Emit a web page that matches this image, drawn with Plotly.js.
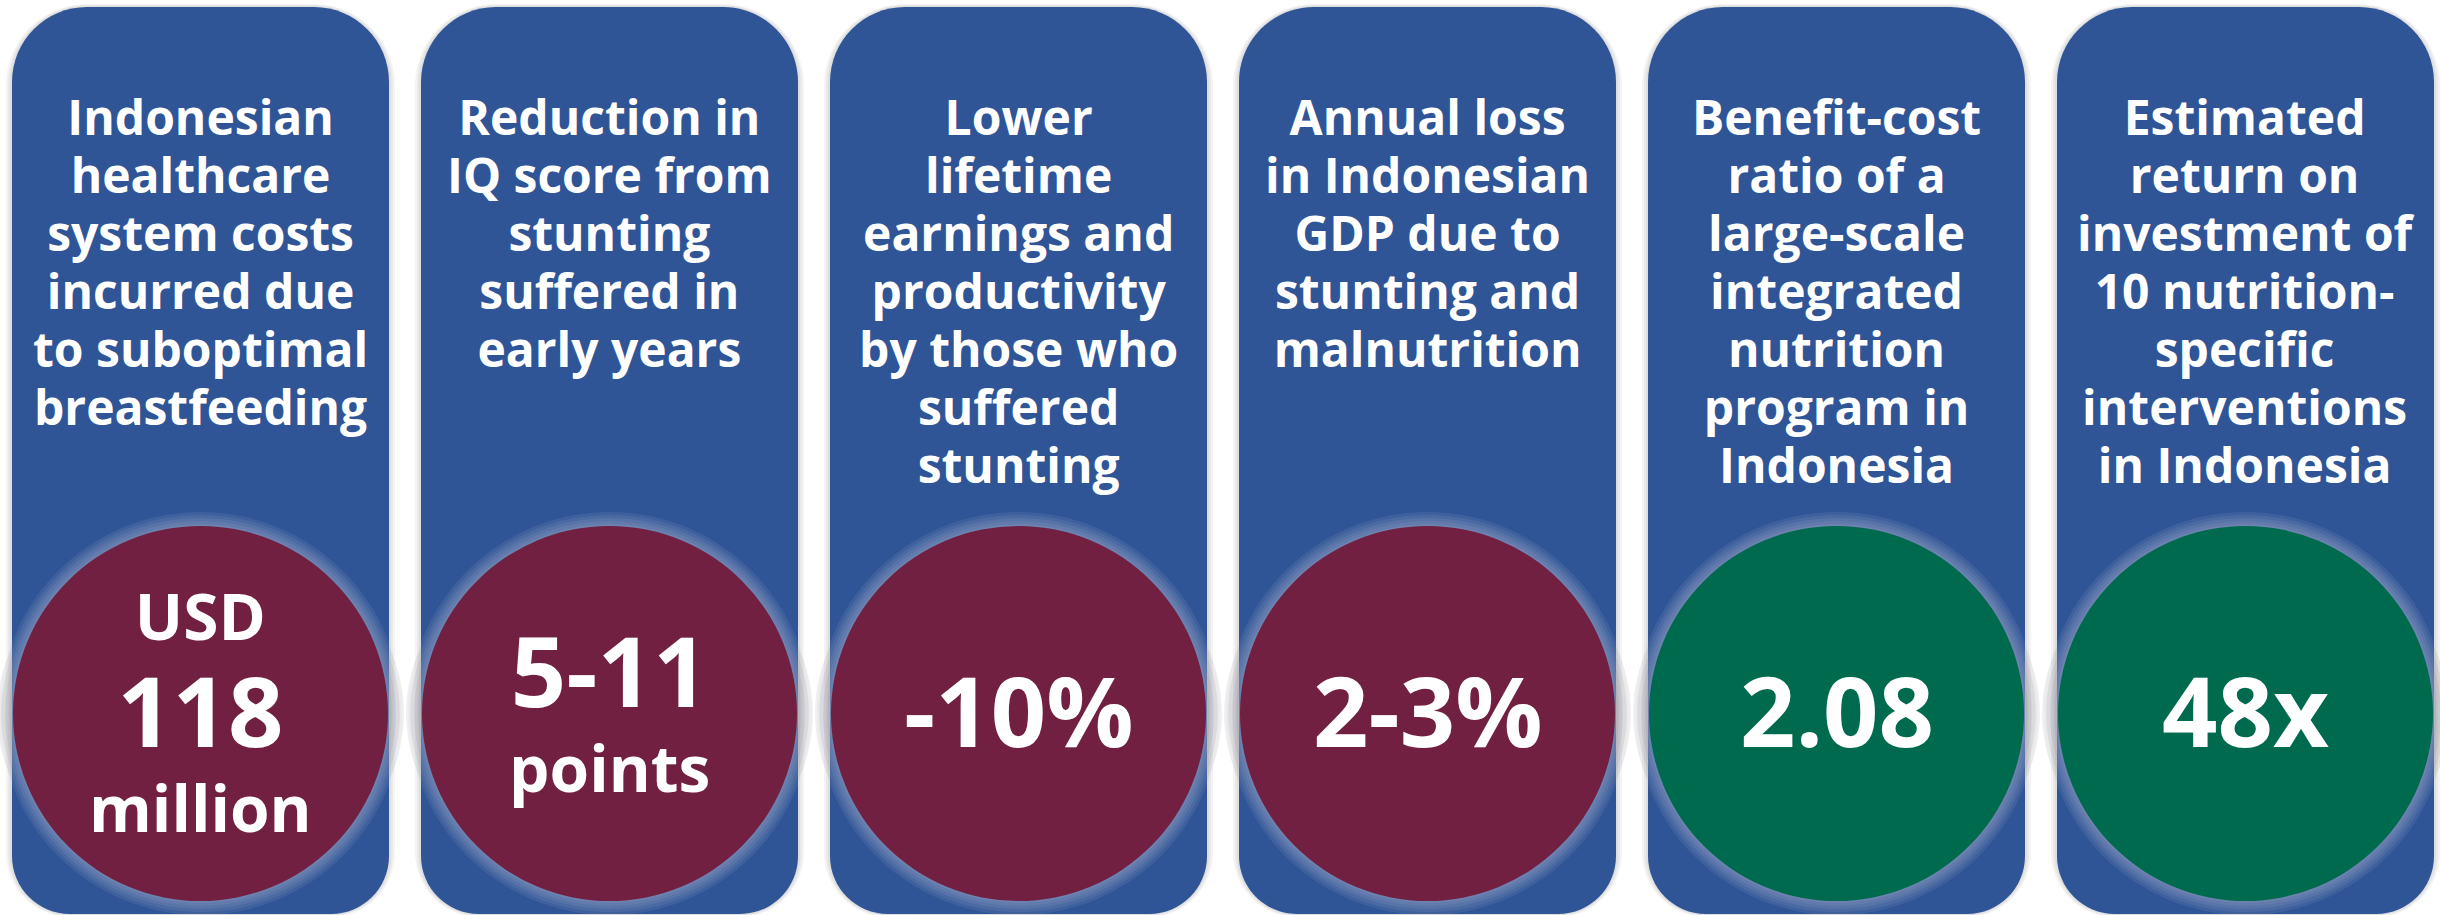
<!DOCTYPE html>
<html>
<head>
<meta charset="utf-8">
<script src="https://cdn.plot.ly/plotly-3.0.1.min.js"></script>
<style>
  html, body { margin: 0; padding: 0; background: #ffffff; }
  #chart { width: 2440px; height: 915px; }
</style>
</head>
<body>
<div id="chart"></div>
<script>
// ---- data ----
const categories = [
  ["Indonesian", "healthcare", "system costs", "incurred due", "to suboptimal", "breastfeeding"],
  ["Reduction in", "IQ score from", "stunting", "suffered in", "early years"],
  ["Lower", "lifetime", "earnings and", "productivity", "by those who", "suffered", "stunting"],
  ["Annual loss", "in Indonesian", "GDP due to", "stunting and", "malnutrition"],
  ["Benefit-cost", "ratio of a", "large-scale", "integrated", "nutrition", "program in", "Indonesia"],
  ["Estimated", "return on", "investment of", "10 nutrition-", "specific", "interventions", "in Indonesia"]
];
const valuePrefix = ["USD", "", "", "", "", ""];
const valueMain   = ["118", "5-11", "-10%", "2-3%", "2.08", "48x"];
const valueSuffix = ["million", "points", "", "", "", ""];
const valueKind   = ["cost", "cost", "cost", "cost", "benefit", "benefit"];

// ---- styling / layout constants ----
const W = 2440, H = 915;
const PANEL_X0 = 12, PANEL_W = 377, PANEL_STEP = 409;
const PANEL_Y0 = 7, PANEL_Y1 = 914, R_TOP = 75, R_BOT = 58;
const BLUE = "#2F5597";
const KIND_COLOR = { cost: "#722041", benefit: "#006A4E" };
const CIRCLE_CY = 713.5, CIRCLE_R = 187.5;
const FONT = "Open Sans";
const ASC = 1.069, DESC = 0.293;           // Open Sans line metrics (em)
const TITLE_FS = 48, TITLE_BASE = 135, TITLE_STEP = 58;
const MAIN_FS = 97, SMALL_FS = 64;
const VALUE_STEP = 21.35;                   // fine line grid inside the circles

function roundedPath(x0, y0, x1, y1, rt, rb) {
  const k = 0.5523;
  return [
    `M ${x0 + rt},${y0}`,
    `L ${x1 - rt},${y0}`,
    `C ${x1 - rt + k * rt},${y0} ${x1},${y0 + rt - k * rt} ${x1},${y0 + rt}`,
    `L ${x1},${y1 - rb}`,
    `C ${x1},${y1 - rb + k * rb} ${x1 - rb + k * rb},${y1} ${x1 - rb},${y1}`,
    `L ${x0 + rb},${y1}`,
    `C ${x0 + rb - k * rb},${y1} ${x0},${y1 - rb + k * rb} ${x0},${y1 - rb}`,
    `L ${x0},${y0 + rt}`,
    `C ${x0},${y0 + rt - k * rt} ${x0 + rt - k * rt},${y0} ${x0 + rt},${y0}`,
    "Z"
  ].join(" ");
}

const shapes = [];
const annotations = [];

// One annotation per text block. lines: [{text, size, steps}] where steps is
// the number of grid steps below the previous line's baseline.
function addBlock(lines, cx, firstBaseline, step) {
  let b = firstBaseline, top = Infinity, bottom = -Infinity;
  const parts = [];
  lines.forEach((ln, j) => {
    if (j > 0) { b += ln.steps * step; for (let s = 1; s < ln.steps; s++) parts.push(""); }
    top = Math.min(top, b - ASC * ln.size);
    bottom = Math.max(bottom, b + DESC * ln.size);
    parts.push(`<span style="font-size:${ln.size}px">${ln.text}</span>`);
  });
  annotations.push({
    xref: "x", yref: "y",
    x: cx, y: (top + bottom) / 2,
    xanchor: "center", yanchor: "middle", align: "center",
    text: parts.join("<br>"), showarrow: false,
    font: { family: FONT, size: step / 1.3, color: "#ffffff", weight: 700 }
  });
}

categories.forEach((lines, i) => {
  const x0 = PANEL_X0 + i * PANEL_STEP, x1 = x0 + PANEL_W, cx = (x0 + x1) / 2;

  // panel shadow
  [6, 4, 2].forEach(d => {
    shapes.push({
      type: "path", layer: "below", xref: "x", yref: "y",
      path: roundedPath(x0 - d, PANEL_Y0 - d / 2, x1 + d, PANEL_Y1 + d / 2, R_TOP + d, R_BOT + d),
      fillcolor: "rgba(0,0,0,0.045)", line: { width: 0 }
    });
  });
  // circle shadow (shows outside panel edges)
  [16, 12, 8, 4].forEach(d => {
    shapes.push({
      type: "circle", layer: "below", xref: "x", yref: "y",
      x0: cx - CIRCLE_R - d, x1: cx + CIRCLE_R + d,
      y0: CIRCLE_CY - CIRCLE_R - d * 0.6 + 20, y1: CIRCLE_CY + CIRCLE_R + d * 0.6 - 20,
      fillcolor: "rgba(0,0,0,0.06)", line: { width: 0 }
    });
  });
  // panel
  shapes.push({
    type: "path", layer: "below", xref: "x", yref: "y",
    path: roundedPath(x0, PANEL_Y0, x1, PANEL_Y1, R_TOP, R_BOT),
    fillcolor: BLUE, line: { width: 0 }
  });
  // glow around circle
  [14, 11, 8, 5, 2].forEach(d => {
    shapes.push({
      type: "circle", layer: "below", xref: "x", yref: "y",
      x0: cx - CIRCLE_R - d, x1: cx + CIRCLE_R + d,
      y0: CIRCLE_CY - CIRCLE_R - d, y1: CIRCLE_CY + CIRCLE_R + d,
      fillcolor: "rgba(200,200,220,0.10)", line: { width: 0 }
    });
  });
  // circle
  shapes.push({
    type: "circle", layer: "below", xref: "x", yref: "y",
    x0: cx - CIRCLE_R, x1: cx + CIRCLE_R,
    y0: CIRCLE_CY - CIRCLE_R, y1: CIRCLE_CY + CIRCLE_R,
    fillcolor: KIND_COLOR[valueKind[i]], line: { width: 0 }
  });

  // title block
  addBlock(lines.map(t => ({ text: t, size: TITLE_FS, steps: 1 })), cx, TITLE_BASE, TITLE_STEP);

  // value block
  const pre = valuePrefix[i], main = valueMain[i], suf = valueSuffix[i];
  if (pre && suf) {
    addBlock([
      { text: pre, size: SMALL_FS, steps: 0 },
      { text: main, size: MAIN_FS, steps: 5 },
      { text: suf, size: SMALL_FS, steps: 4 }
    ], cx, 747 - 5 * VALUE_STEP, VALUE_STEP);
  } else if (suf) {
    addBlock([
      { text: main, size: MAIN_FS, steps: 0 },
      { text: suf, size: SMALL_FS, steps: 4 }
    ], cx, 707, VALUE_STEP);
  } else {
    addBlock([{ text: main, size: MAIN_FS, steps: 0 }], cx, 747, VALUE_STEP);
  }
});

const layout = {
  width: W, height: H,
  margin: { l: 0, r: 0, t: 0, b: 0, pad: 0 },
  paper_bgcolor: "#ffffff", plot_bgcolor: "#ffffff",
  xaxis: { range: [0, W], visible: false, fixedrange: true },
  yaxis: { range: [H, 0], visible: false, fixedrange: true },
  showlegend: false,
  shapes: shapes,
  annotations: annotations
};

Plotly.newPlot("chart", [], layout, { displayModeBar: false, staticPlot: true });
</script>
</body>
</html>
